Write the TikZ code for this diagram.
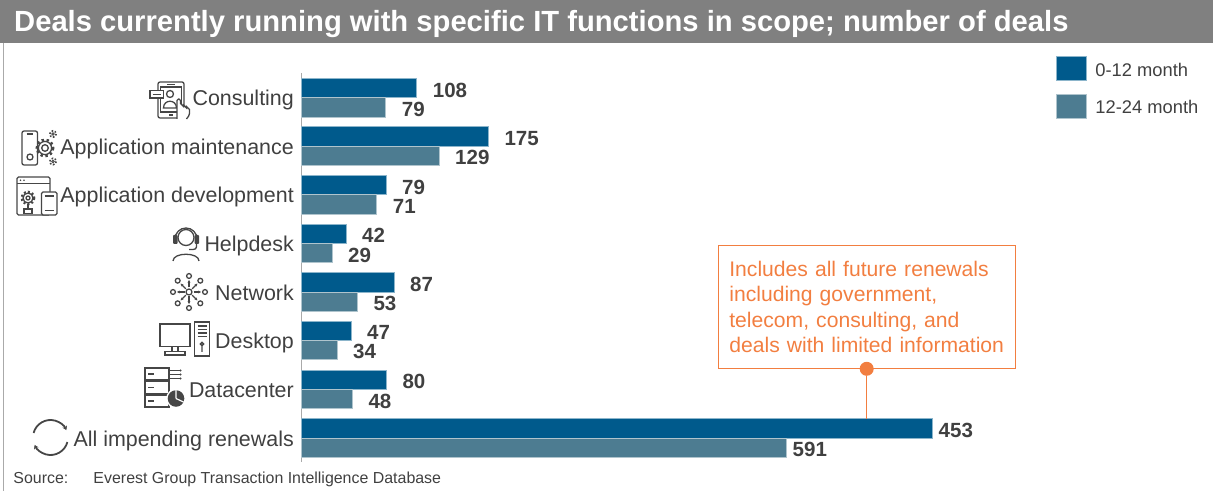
\documentclass[tikz,border=0pt]{standalone}
\usepackage{fontspec}
\setmainfont{Liberation Sans}
\usetikzlibrary{arrows.meta,positioning}
\definecolor{darkbar}{RGB}{0,90,140}
\definecolor{lightbar}{RGB}{77,124,145}
\definecolor{titlegray}{RGB}{128,128,128}
\definecolor{txtgray}{RGB}{64,64,64}
\definecolor{icongray}{RGB}{70,70,70}
\definecolor{axisgray}{RGB}{170,170,170}
\definecolor{notecol}{RGB}{242,126,64}

\begin{document}
\begin{tikzpicture}[x=1bp,y=-1bp]
	\tikzstyle{bara} = [fill=darkbar,draw=white!55!darkbar,line width=0.5bp,anchor=north west,minimum height=19.3bp,inner sep=0,outer sep=0];
	\tikzstyle{barb} = [fill=lightbar,draw=white!55!lightbar,line width=0.5bp,anchor=north west,minimum height=19.3bp,inner sep=0,outer sep=0];
	\tikzstyle{val} = [inner sep=0,text=txtgray,font=\fontsize{20.6}{24}\selectfont\bfseries,yshift=-2bp];
	\tikzstyle{cat} = [anchor=base east,inner sep=0,text=txtgray,font=\fontsize{21.5}{25}\selectfont];
	\tikzstyle{legtxt} = [inner sep=0,text=txtgray,font=\fontsize{18.4}{22}\selectfont,yshift=-1.5bp];
	\tikzstyle{srctxt} = [anchor=base west,inner sep=0,text=txtgray,font=\fontsize{16}{19}\selectfont];
	\tikzstyle{icon} = [draw=icongray,line width=1.3bp];
	\tikzstyle{gear} = [draw=icongray,line width=2.4bp,dash pattern=on 2.4bp off 2.6bp];
	\tikzstyle{netarrow} = [icon,-{Stealth[length=2.8bp,width=2.8bp]}];
	\useasboundingbox (0,0) rectangle (1213,491);
	% title bar and frame
	\fill[titlegray] (0,0) rectangle (1213,42.7);
	\node (title) [anchor=base west,inner sep=0,text=white,font=\fontsize{29.3}{33}\selectfont\bfseries] at (14,31.4) {Deals currently running with specific IT functions in scope; number of deals};
	\draw[axisgray,line width=1.5bp] (3.5,42.7) -- (3.5,491);
	\draw[axisgray,line width=1bp] (301,73) -- (301,462);
	% bars
	\node (cons_a) [bara,minimum width=115.7bp] at (301,78.3) {};
	\node (cons_b) [barb,minimum width=84.7bp,below=0bp of cons_a.south west,anchor=north west] {};
	\node (cons_av) [val,right=16bp of cons_a] {108};
	\node (cons_bv) [val,right=16bp of cons_b] {79};
	\node (maint_a) [bara,minimum width=187.3bp] at (301,126.7) {};
	\node (maint_b) [barb,minimum width=138bp,below=0bp of maint_a.south west,anchor=north west] {};
	\node (maint_av) [val,right=16bp of maint_a] {175};
	\node (maint_bv) [val,right=16bp of maint_b] {129};
	\node (dev_a) [bara,minimum width=85bp] at (301,175.3) {};
	\node (dev_b) [barb,minimum width=75.7bp,below=0bp of dev_a.south west,anchor=north west] {};
	\node (dev_av) [val,right=16bp of dev_a] {79};
	\node (dev_bv) [val,right=16bp of dev_b] {71};
	\node (help_a) [bara,minimum width=45bp] at (301,224) {};
	\node (help_b) [barb,minimum width=31bp,below=0bp of help_a.south west,anchor=north west] {};
	\node (help_av) [val,right=16bp of help_a] {42};
	\node (help_bv) [val,right=16bp of help_b] {29};
	\node (net_a) [bara,minimum width=93bp] at (301,272.7) {};
	\node (net_b) [barb,minimum width=56.3bp,below=0bp of net_a.south west,anchor=north west] {};
	\node (net_av) [val,right=16bp of net_a] {87};
	\node (net_bv) [val,right=16bp of net_b] {53};
	\node (desk_a) [bara,minimum width=50bp] at (301,321) {};
	\node (desk_b) [barb,minimum width=36bp,below=0bp of desk_a.south west,anchor=north west] {};
	\node (desk_av) [val,right=16bp of desk_a] {47};
	\node (desk_bv) [val,right=16bp of desk_b] {34};
	\node (dc_a) [bara,minimum width=85.3bp] at (301,370) {};
	\node (dc_b) [barb,minimum width=51.3bp,below=0bp of dc_a.south west,anchor=north west] {};
	\node (dc_av) [val,right=16bp of dc_a] {80};
	\node (dc_bv) [val,right=16bp of dc_b] {48};
	\node (all_a) [bara,minimum width=631bp] at (301,418.7) {};
	\node (all_b) [barb,minimum width=485bp,below=0bp of all_a.south west,anchor=north west] {};
	\node (all_av) [val,right=6.5bp of all_a] {453};
	\node (all_bv) [val,right=6.5bp of all_b] {591};
	% category labels
	\node (cons) [cat] at (294,105.8) {Consulting};
	\node (maint) [cat] at (294,154.2) {Application maintenance};
	\node (dev) [cat] at (294,202.8) {Application development};
	\node (help) [cat] at (294,251.5) {Helpdesk};
	\node (net) [cat] at (294,300.2) {Network};
	\node (desk) [cat] at (294,348.5) {Desktop};
	\node (dc) [cat] at (294,397.5) {Datacenter};
	\node (all) [cat] at (294,446.2) {All impending renewals};
	% icons
	\draw[icon,rounded corners=2bp] (158,82) rectangle (184,118);
	\draw[icon] (160.5,87) rectangle (181.5,112);
	\draw[icon] (167,84.5) -- (175,84.5) (169,115) -- (173,115);
	\draw[icon] (170,94) circle (3.5);
	\draw[icon] (163.5,108) .. controls (163.5,99) and (176.5,99) .. (176.5,108) -- cycle;
	\draw[icon,fill=white] (150,90.5) rectangle (163.5,98);
	\draw[icon] (152.5,94.2) -- (160.5,94.2);
	\draw[icon,fill=white,rounded corners=1.5bp] (177,119) -- (177,99) -- (180.5,99) -- (180.5,105) -- (183.5,105) -- (183.5,106.5) -- (186.5,106.5) -- (186.5,108) -- (189.5,108) -- (189.5,115) -- (186.5,119);
	\draw[icon,rounded corners=2bp] (22,131) rectangle (37.5,165);
	\draw[icon] (26.5,134) -- (32.5,134);
	\draw[icon] (30,157) circle (3);
	\draw[gear] (45,148) circle (8.2);
	\draw[icon,fill=white] (45,148) circle (6.6);
	\draw[icon] (45,148) circle (3.3);
	\draw[gear,line width=1.6bp,dash pattern=on 1.6bp off 1.7bp] (53,134) circle (3.2) (53,161.5) circle (3.2);
	\draw[icon,line width=0.8bp] (53,134) circle (1.2) (53,161.5) circle (1.2);
	\draw[icon,rounded corners=1.5bp] (17,177) rectangle (50,215);
	\draw[icon] (17,183.5) -- (50,183.5);
	\fill[icongray] (20.5,180.3) circle (0.9) (24,180.3) circle (0.9);
	\draw[gear,line width=2bp,dash pattern=on 2bp off 2.2bp] (28,198) circle (6.3);
	\draw[icon,fill=white] (28,198) circle (5);
	\draw[icon] (28,198) circle (2);
	\draw[icon] (28,204) -- (28,209) (24,209) rectangle (32,213.5);
	\draw[icon,fill=white,rounded corners=1.5bp] (41.5,192) rectangle (57,215);
	\draw[icon] (44.5,196) -- (54,196) (44.5,210.5) -- (54,210.5);
	\draw[icon] (186,237.5) circle (8);
	\draw[icon] (175,239) arc (180:360:11);
	\fill[icongray,rounded corners=1bp] (173,235) rectangle (177.5,244) (194.5,235) rectangle (199,244);
	\draw[icon] (196.5,244) .. controls (196.5,249.5) .. (189,249.5);
	\draw[icon] (173,261) .. controls (173,252) and (199,252) .. (199,261);
	\draw[icon] (189,292) circle (3);
	\draw[icon] (189,292) ++(0:16) circle (2.4) (189,292) ++(45:16) circle (2.4) (189,292) ++(90:16) circle (2.4) (189,292) ++(135:16) circle (2.4) (189,292) ++(180:16) circle (2.4) (189,292) ++(225:16) circle (2.4) (189,292) ++(270:16) circle (2.4) (189,292) ++(315:16) circle (2.4);
	\draw[netarrow] (189,292) ++(0:4.5) -- ++(0:7.5);
	\draw[netarrow] (189,292) ++(45:4.5) -- ++(45:7.5);
	\draw[netarrow] (189,292) ++(90:4.5) -- ++(90:7.5);
	\draw[netarrow] (189,292) ++(135:4.5) -- ++(135:7.5);
	\draw[netarrow] (189,292) ++(180:4.5) -- ++(180:7.5);
	\draw[netarrow] (189,292) ++(225:4.5) -- ++(225:7.5);
	\draw[netarrow] (189,292) ++(270:4.5) -- ++(270:7.5);
	\draw[netarrow] (189,292) ++(315:4.5) -- ++(315:7.5);
	\draw[icon] (160,324) rectangle (190,346.5);
	\draw[icon] (172,346.5) -- (172,351.5) (178,346.5) -- (178,351.5);
	\draw[icon] (165,351.5) rectangle (185,355);
	\draw[icon] (194.5,322) rectangle (209.5,356);
	\draw[icon] (197.5,326) -- (206.5,326) (197.5,329.5) -- (206.5,329.5) (197.5,333) -- (206.5,333) (197.5,336.5) -- (206.5,336.5);
	\draw[icon] (202,344) circle (1.6) (202,346) -- (202,352);
	\draw[icon] (145,368) rectangle (169,380) (145,381.5) rectangle (169,393.5) (145,395) rectangle (169,407);
	\draw[icon] (148,374) -- (154,374) (148,387.5) -- (154,387.5) (148,401) -- (154,401);
	\draw[icon] (169,370.5) -- (180,370.5) (169,374.5) -- (180,374.5) (169,378.5) -- (180,378.5);
	\fill[icongray] (180.5,370.5) circle (1.2) (180.5,374.5) circle (1.2) (180.5,378.5) circle (1.2);
	\fill[white] (176,398.5) circle (9.8);
	\fill[icongray] (176,398.5) circle (8.3);
	\draw[white,line width=1.2bp] (176,398.5) -- (176,390) (176,398.5) -- (183.5,402);
	\draw[icon,line width=1.8bp,-{Stealth[length=4bp,width=5bp]}] (50.5,437.5) ++(195:17.5) arc (195:335:17.5);
	\draw[icon,line width=1.8bp,-{Stealth[length=4bp,width=5bp]}] (50.5,437.5) ++(15:17.5) arc (15:155:17.5);
	% legend
	\node (leg_a) [bara,anchor=center,minimum width=30bp,minimum height=24bp] at (1071.7,68.7) {};
	\node (leg_b) [barb,anchor=center,minimum width=30bp,minimum height=24bp] at (1071.7,105.9) {};
	\node (leg_at) [legtxt,right=8.5bp of leg_a] {0-12 month};
	\node (leg_bt) [legtxt,right=8.5bp of leg_b] {12-24 month};
	% callout
	\node (note) [draw=notecol,line width=1bp,text=notecol,minimum width=296.7bp,minimum height=122.6bp,text width=274.7bp,align=left,inner xsep=11bp,inner ysep=0,font=\fontsize{21.2}{25.7}\selectfont] at (866.7,307) {Includes all future renewals\\including government,\\telecom, consulting, and\\deals with limited information};
	\node (dot) [circle,fill=notecol,inner sep=0,minimum size=14bp] at (note.south) {};
	\draw[notecol,line width=1.2bp] (dot) -- (dot |- all_a.north);
	% source
	\node (src) [srctxt] at (13.3,483.5) {Source:};
	\node (src_db) [srctxt] at (93.3,483.5) {Everest Group Transaction Intelligence Database};
\end{tikzpicture}
\end{document}
